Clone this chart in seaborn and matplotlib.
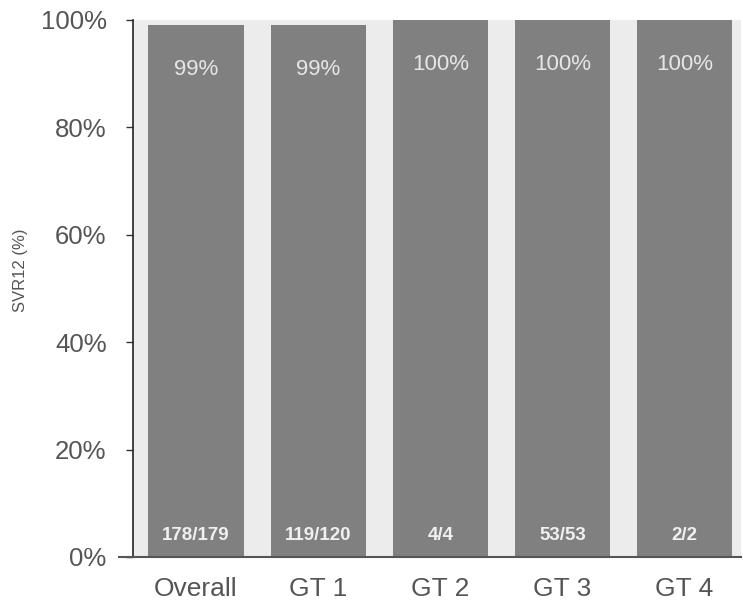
import matplotlib
matplotlib.use("Agg")
import matplotlib.pyplot as plt
import seaborn as sns
import pandas as pd

categories = ["Overall", "GT 1", "GT 2", "GT 3", "GT 4"]
svr12 = [99, 99, 100, 100, 100]
pct_labels = ["99%", "99%", "100%", "100%", "100%"]
counts = ["178/179", "119/120", "4/4", "53/53", "2/2"]
y_ticks = [0, 20, 40, 60, 80, 100]

sns.set_style("white")
plt.rcParams["font.family"] = ["Liberation Sans", "DejaVu Sans"]

df = pd.DataFrame({"group": categories, "svr": svr12})

fig = plt.figure(figsize=(7.43, 6.06), dpi=100)
ax = fig.add_axes([0.179, 0.081, 0.818, 0.886])
ax.set_facecolor("#ececec")

sns.barplot(data=df, x="group", y="svr", color="#808080", width=0.78,
            saturation=1, linewidth=0, edgecolor="none", ax=ax)

for i, (v, lab, n) in enumerate(zip(svr12, pct_labels, counts)):
    ax.text(i, v - 8.3 if v < 100 else v - 8.2, lab, ha="center", va="center",
            fontsize=16, color="#e6e6e6")
    ax.text(i, 3.9, n, ha="center", va="center", fontsize=13.5,
            fontweight="bold", color="#f0f0f0")

ax.set_xlim(-0.516, 4.46)
ax.set_ylim(0, 100)
ax.set_yticks(y_ticks)
ax.set_yticklabels([f"{t}%" for t in y_ticks])
ax.tick_params(axis="y", left=True, length=5, width=1, color="#333333",
               labelsize=18.5, labelcolor="#555555", pad=14)
ax.tick_params(axis="x", bottom=False, labelsize=19, labelcolor="#555555",
               pad=11)

for side in ["top", "right"]:
    ax.spines[side].set_visible(False)
ax.spines["left"].set_color("#222222")
ax.spines["left"].set_linewidth(1.2)
ax.spines["bottom"].set_color("#555555")
ax.spines["bottom"].set_linewidth(1.5)
ax.spines["bottom"].set_bounds(-0.63, 4.46)
ax.spines["bottom"].set_clip_on(False)

ax.set_xlabel("")
ax.set_ylabel("")
fig.text(21 / 743, 1 - 270 / 606, "SVR12 (%)", rotation=90, ha="center",
         va="center", fontsize=12, color="#555555")

fig.savefig("out.png", dpi=100, facecolor="white")
